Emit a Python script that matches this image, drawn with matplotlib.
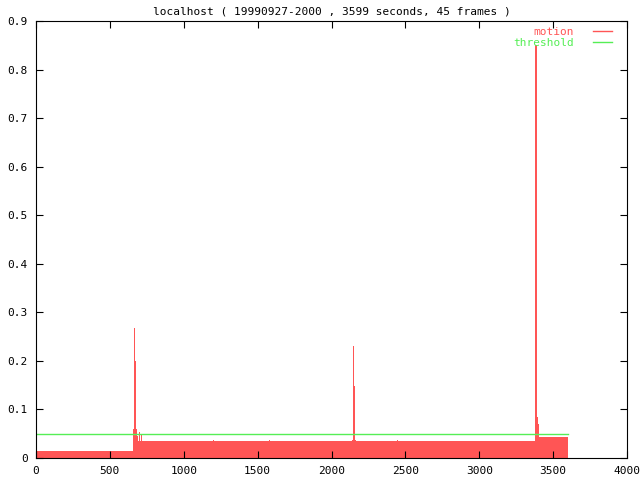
import matplotlib
matplotlib.use("Agg")
import matplotlib.pyplot as plt

# motion level per time (seconds), held until the next time
times = [0, 655, 660, 668, 676, 682, 690, 696, 704, 712, 720, 1195, 1202,
         1440, 1447, 1580, 1587, 2138, 2144, 2152, 2160, 2166, 2440, 2447,
         3374, 3380, 3388, 3396, 3402, 3406, 3599]
motion = [0.014, 0.06, 0.267, 0.2, 0.06, 0.045, 0.034, 0.053, 0.034, 0.047, 0.034, 0.037, 0.034,
          0.036, 0.034, 0.037, 0.034, 0.037, 0.231, 0.148, 0.037, 0.034, 0.037, 0.034,
          0.085, 0.85, 0.085, 0.07, 0.05, 0.044, 0.044]
threshold_t = [0, 3599]
threshold = [0.05, 0.05]

red = '#ff5555'
green = '#55ee55'

plt.rcParams['font.family'] = 'DejaVu Sans Mono'
plt.rcParams['font.size'] = 8

fig = plt.figure(figsize=(6.4, 4.8), dpi=100)
ax = fig.add_axes([36 / 640, 22 / 480, 591 / 640, 437 / 480])

ax.fill_between(times, motion, step='post', color=red, linewidth=0)
ax.plot([], [], color=red, linewidth=1, label='motion')
ax.plot(threshold_t, threshold, color=green, linewidth=1, label='threshold')

ax.set_xlim(0, 4000)
ax.set_ylim(0, 0.9)
ax.set_xticks(range(0, 4001, 500))
ax.set_yticks([i / 10 for i in range(10)])
ax.set_yticklabels(['0'] + ['0.%d' % i for i in range(1, 10)])
ax.tick_params(direction='in', length=5, top=True, right=True, pad=6)

ax.set_title('localhost ( 19990927-2000 , 3599 seconds, 45 frames )', fontsize=8, pad=5)

leg = ax.legend(loc='upper right', bbox_to_anchor=(0.9746, 0.986), frameon=False,
                markerfirst=False, handlelength=1.75, handletextpad=1.7,
                labelspacing=0.1, borderaxespad=0, borderpad=0)
leg.get_texts()[0].set_color(red)
leg.get_texts()[1].set_color(green)

fig.savefig('out.png', dpi=100)
